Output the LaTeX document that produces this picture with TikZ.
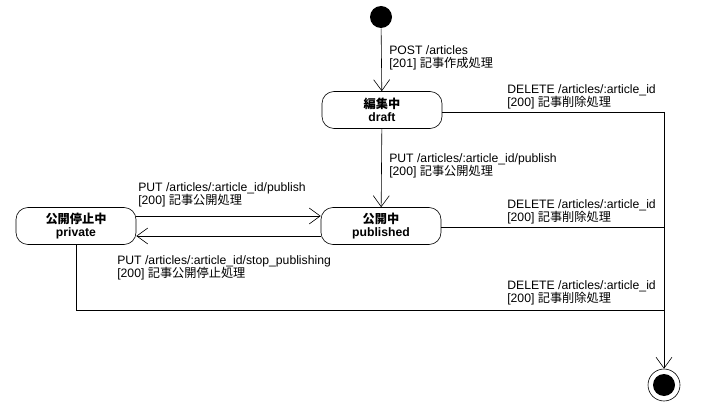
\documentclass[tikz,border=0pt]{standalone}
\usepackage{fontspec}
\setmainfont{Liberation Sans}
\newfontfamily\jpfont{Noto Sans CJK JP}
\usetikzlibrary{arrows.meta, positioning}
\def\labelsize{\fontsize{12.2}{13}\selectfont}

\begin{document}
\begin{tikzpicture}[x=1pt, y=-1pt, ->, >={Straight Barb[length=11pt, width=16pt]}, draw=black, line width=0.6pt]
    \tikzstyle{state}=[rectangle, rounded corners=12pt, draw=black, minimum width=120pt, minimum height=37pt, align=center, inner sep=2pt, font=\bfseries\labelsize]
    \tikzstyle{start}=[circle, fill=black, minimum size=22pt, inner sep=0pt]
    \tikzstyle{stop}=[circle, draw=black, minimum size=32pt, inner sep=0pt]
    \tikzstyle{trans}=[anchor=north west, align=left, inner sep=0pt, font=\labelsize]

    \useasboundingbox (0,0) rectangle (702,409);

    % Draw the states
    \node[start] (init) at (381,17) {};
    \node[state] (draft) at (382,110) {{\jpfont 編集中}\\draft};
    \node[state] (published) at (381,226) {{\jpfont 公開中}\\published};
    \node[state] (private) at (76,226) {{\jpfont 公開停止中}\\private};
    \node[stop] (final) at (664,385) {};
    \fill[black] (final.center) circle (11);

    % Corner points of the delete lines
    \coordinate (del-draft) at (664,112);
    \coordinate (del-pub) at (664,227);
    \coordinate (del-priv) at (664,310);

    % Connect the states
    \draw (init) -- (draft);
    \draw (draft) -- (published);
    \draw ([yshift=10pt]private.east) -- ([yshift=10pt]published.west);
    \draw ([yshift=-10pt]published.west) -- ([yshift=-10pt]private.east);

    \draw[-] (draft.east |- del-draft) -- (del-draft);
    \draw[-] (published.east |- del-pub) -- (del-pub);
    \draw[-] (private.south) |- (del-priv);
    \draw (del-draft) -- (final);

    % Transition labels
    \node[trans] (l-post) at (389,45) {POST /articles\\{}[201] {\jpfont 記事作成処理}};
    \node[trans] (l-pub1) at (389,153) {PUT /articles/:article\_id/publish\\{}[200] {\jpfont 記事公開処理}};
    \node[trans] (l-pub2) at (138,182) {PUT /articles/:article\_id/publish\\{}[200] {\jpfont 記事公開処理}};
    \node[trans] (l-stop) at (117,255) {PUT /articles/:article\_id/stop\_publishing\\{}[200] {\jpfont 記事公開停止処理}};
    \node[trans] (l-del1) at (507,84) {DELETE /articles/:article\_id\\{}[200] {\jpfont 記事削除処理}};
    \node[trans] (l-del2) at (507,199) {DELETE /articles/:article\_id\\{}[200] {\jpfont 記事削除処理}};
    \node[trans] (l-del3) at (507,280) {DELETE /articles/:article\_id\\{}[200] {\jpfont 記事削除処理}};
\end{tikzpicture}
\end{document}
